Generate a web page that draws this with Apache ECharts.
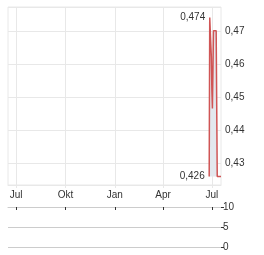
<!DOCTYPE html>
<html>
<head>
<meta charset="utf-8">
<script src="https://cdn.jsdelivr.net/npm/echarts@6/dist/echarts.min.js"></script>
<style>
  html, body { margin: 0; padding: 0; background: #fff; }
  #chart { width: 264px; height: 255px; }
</style>
</head>
<body>
<div id="chart"></div>
<script>
// Achsenbereich (Kalendertage)
const startDay = "2024-06-16";
const endDay = "2025-07-18";
// Monatsnamen fuer die x-Achse
const monthNames = ["Jan", "Feb", "Mär", "Apr", "Mai", "Jun", "Jul", "Aug", "Sep", "Okt", "Nov", "Dez"];
const tickMonths = [0, 3, 6, 9];
// Kurse (Handelstage)
const tradeDates = [
  "2025-06-26", "2025-06-27", "2025-06-30", "2025-07-01", "2025-07-02",
  "2025-07-03", "2025-07-04", "2025-07-07", "2025-07-08", "2025-07-09",
  "2025-07-10", "2025-07-11", "2025-07-14", "2025-07-15", "2025-07-16",
  "2025-07-17", "2025-07-18",
];
const prices = [
  0.426, 0.474, 0.462, 0.452, 0.4465,
  0.458, 0.47, 0.47, 0.47, 0.47,
  0.47, 0.426, 0.426, 0.426, 0.426,
  0.426, 0.426,
];
// Umsatz (Stueck)
const volumes = [0, 0, 0, 0, 0, 0, 0, 0, 0, 0, 0, 0, 0, 0, 0, 0, 0];
// y-Achsen
const priceMin = 0.4234;
const priceMax = 0.4772;
const volTicks = [0, 5, 10];

// alle Kalendertage als Kategorien
const days = [];
let d = new Date(startDay + "T00:00:00Z");
const last = new Date(endDay + "T00:00:00Z");
while (d <= last) {
  days.push(d.toISOString().slice(0, 10));
  d = new Date(d.getTime() + 86400000);
}
const priceByDay = {};
const volByDay = {};
tradeDates.forEach((t, i) => {
  priceByDay[t] = prices[i];
  volByDay[t] = volumes[i];
});
const priceData = days.map(t => (t in priceByDay ? priceByDay[t] : null));
const volData = days.map(t => (t in volByDay ? volByDay[t] : null));

const isQuarterStart = (idx) => {
  const t = days[idx];
  const m = parseInt(t.slice(5, 7), 10) - 1;
  return t.slice(8, 10) === "01" && tickMonths.indexOf(m) >= 0;
};
const fmt = (v, n) => v.toFixed(n).replace(".", ",");
const lowest = Math.min(...prices);

const chart = echarts.init(document.getElementById("chart"));

const option = {
  animation: false,
  textStyle: { fontFamily: "Arial, 'Liberation Sans', sans-serif" },
  grid: [
    { left: 8, top: 7, width: 213, height: 178, show: true, borderColor: "#e8e8e8", borderWidth: 1 },
    { left: 8, top: 207, width: 213, height: 40.5 },
  ],
  xAxis: [
    {
      type: "category",
      gridIndex: 0,
      data: days,
      boundaryGap: false,
      axisLine: { show: true, lineStyle: { color: "#e8e8e8" } },
      axisTick: {
        show: true,
        length: 3,
        interval: isQuarterStart,
        lineStyle: { color: "#e8e8e8" },
      },
      axisLabel: {
        interval: isQuarterStart,
        margin: 5,
        fontSize: 10,
        color: "#333",
        formatter: (v) => monthNames[parseInt(v.slice(5, 7), 10) - 1],
      },
      splitLine: {
        show: true,
        interval: isQuarterStart,
        lineStyle: { color: "#e8e8e8" },
      },
    },
    {
      type: "category",
      gridIndex: 1,
      data: days,
      boundaryGap: false,
      position: "top",
      axisLine: { show: true, onZero: false, lineStyle: { color: "#cccccc" } },
      axisTick: {
        show: true,
        inside: true,
        length: 3,
        interval: isQuarterStart,
        lineStyle: { color: "#333" },
      },
      axisLabel: { show: false },
      splitLine: { show: false },
    },
  ],
  yAxis: [
    {
      type: "value",
      gridIndex: 0,
      position: "right",
      min: priceMin,
      max: priceMax,
      axisLine: { show: false },
      axisTick: { show: false },
      axisLabel: {
        fontSize: 10,
        color: "#333",
        margin: 4,
        showMinLabel: false,
        showMaxLabel: false,
        formatter: (v) => fmt(v, 2),
      },
      splitLine: { show: true, lineStyle: { color: "#e8e8e8" } },
    },
    {
      type: "value",
      gridIndex: 1,
      position: "right",
      min: volTicks[0],
      max: volTicks[volTicks.length - 1],
      interval: volTicks[1] - volTicks[0],
      axisLine: { show: false },
      axisTick: { show: true, length: 3, lineStyle: { color: "#333" } },
      axisLabel: { fontSize: 10, color: "#333", margin: 2 },
      splitLine: { show: true, lineStyle: { color: "#cccccc" } },
    },
  ],
  series: [
    {
      name: "Kurs",
      type: "line",
      xAxisIndex: 0,
      yAxisIndex: 0,
      data: priceData,
      connectNulls: true,
      showSymbol: false,
      lineStyle: { width: 1.5, color: "#d05555" },
      areaStyle: { origin: lowest, color: "#e3e8ee", opacity: 1 },
      markPoint: {
        symbol: "circle",
        symbolSize: 1,
        itemStyle: { color: "rgba(0,0,0,0)" },
        label: {
          position: "left",
          distance: 4,
          fontSize: 10,
          color: "#333",
          formatter: (p) => fmt(p.value, 3),
        },
        data: [{ type: "max" }, { type: "min" }],
      },
    },
    {
      name: "Umsatz",
      type: "bar",
      xAxisIndex: 1,
      yAxisIndex: 1,
      data: volData,
      itemStyle: { color: "#8aa4c0" },
    },
  ],
};

chart.setOption(option);
</script>
</body>
</html>
